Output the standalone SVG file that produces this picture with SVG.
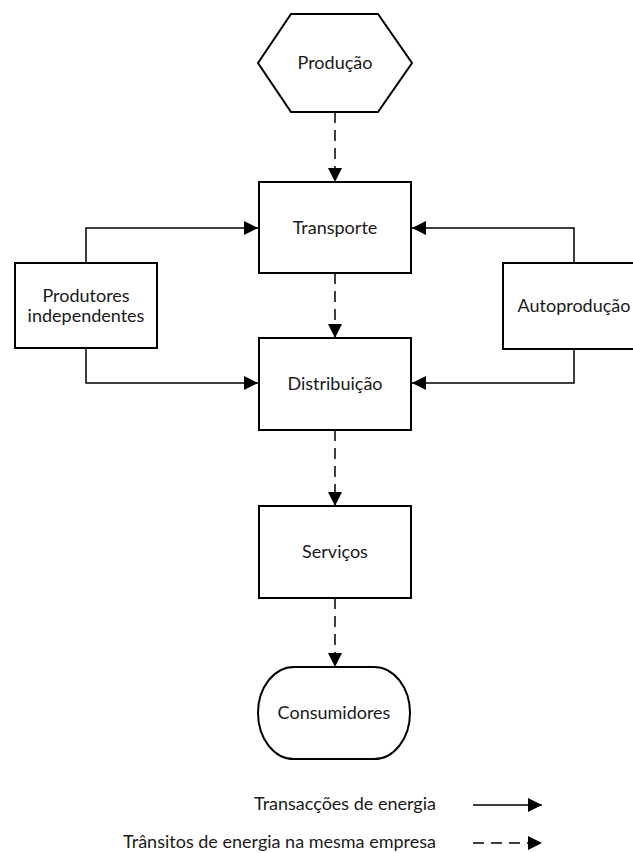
<svg xmlns="http://www.w3.org/2000/svg" width="633" height="853" viewBox="0 0 633 853">
<style>
.node{fill:#fff;stroke:#000;stroke-width:2}
.lbl{font-family:Lato,"DejaVu Sans",sans-serif;font-size:18px;fill:#1a1a1a;text-anchor:middle}
.leg{font-family:Lato,"DejaVu Sans",sans-serif;font-size:18px;fill:#1a1a1a;text-anchor:end}
.c{fill:none;stroke:#000;stroke-width:1.5}
.d{stroke-dasharray:11,7}
</style>
<defs>
<marker id="ah" markerUnits="userSpaceOnUse" markerWidth="14" markerHeight="14" viewBox="0 0 14 14" refX="14" refY="7" orient="auto">
<path d="M0,0 L14,7 L0,14 Z" fill="#000"/>
</marker>
</defs>
<rect width="633" height="853" fill="#fff"/>
<g id="connectors">
<line class="c d" x1="335" y1="112" x2="335" y2="182" marker-end="url(#ah)"/>
<line class="c d" x1="335" y1="273" x2="335" y2="338" marker-end="url(#ah)"/>
<line class="c d" x1="335" y1="430" x2="335" y2="506" marker-end="url(#ah)"/>
<line class="c d" x1="335" y1="598" x2="335" y2="667" marker-end="url(#ah)"/>
<polyline class="c" points="86,263 86,228 258,228" marker-end="url(#ah)"/>
<polyline class="c" points="86,348 86,383 258,383" marker-end="url(#ah)"/>
<polyline class="c" points="574,263 574,228 412,228" marker-end="url(#ah)"/>
<polyline class="c" points="574,349 574,383 412,383" marker-end="url(#ah)"/>
</g>
<g id="producao">
<polygon class="node" points="291,14 378,14 412,63 378,112 291,112 258,63"/>
<text class="lbl" x="335" y="69">Produção</text>
</g>
<g id="transporte">
<rect class="node" x="259" y="182" width="152" height="91"/>
<text class="lbl" x="335" y="233.5">Transporte</text>
</g>
<g id="distribuicao">
<rect class="node" x="259" y="338" width="152" height="92"/>
<text class="lbl" x="335" y="390">Distribuição</text>
</g>
<g id="servicos">
<rect class="node" x="259" y="506" width="152" height="92"/>
<text class="lbl" x="335" y="558">Serviços</text>
</g>
<g id="consumidores">
<rect class="node" x="258" y="667" width="152" height="92" rx="36" ry="46"/>
<text class="lbl" x="334" y="719">Consumidores</text>
</g>
<g id="produtores">
<rect class="node" x="15" y="263" width="142" height="85"/>
<text class="lbl" x="86" y="302">Produtores</text>
<text class="lbl" x="86" y="322">independentes</text>
</g>
<g id="autoproducao">
<rect class="node" x="503" y="263" width="142" height="86"/>
<text class="lbl" x="574" y="312">Autoprodução</text>
</g>
<g id="legend">
<text class="leg" x="436" y="810">Transacções de energia</text>
<text class="leg" x="436" y="848">Trânsitos de energia na mesma empresa</text>
<line class="c" x1="473" y1="805" x2="542" y2="805" marker-end="url(#ah)"/>
<line class="c d" x1="473" y1="843" x2="542" y2="843" marker-end="url(#ah)"/>
</g>
</svg>
